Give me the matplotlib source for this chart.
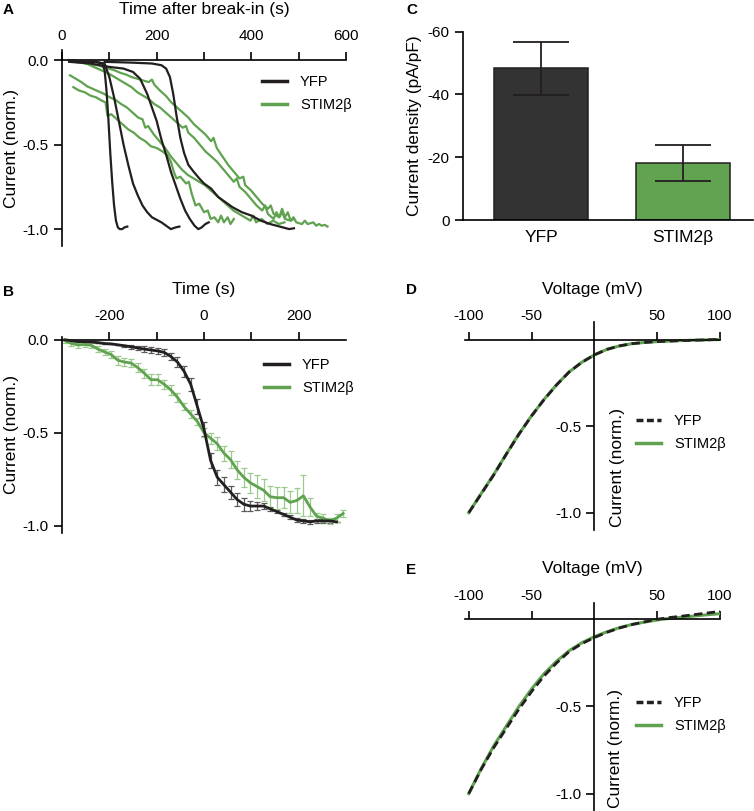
import matplotlib
matplotlib.use('Agg')
import matplotlib.pyplot as plt

plt.rcParams['font.family'] = ['Liberation Sans', 'DejaVu Sans']
plt.rcParams['axes.unicode_minus'] = False
plt.rcParams['axes.linewidth'] = 1.2

BLACK = '#231f20'
GREEN = '#5fa24f'
GREEN_ERR = '#9acb8c'
BLACK_ERR = '#5a5a5a'
GREY_BAR = '#333333'

# ---- panel A: individual traces, time after break-in ----
yfp_t1 = [15, 30, 50, 70, 85, 90, 94, 98, 102, 106, 110, 114, 118, 122, 127, 132, 138]
yfp_i1 = [0, -0.005, -0.01, -0.01, -0.02, -0.06, -0.18, -0.35, -0.55, -0.72, -0.86, -0.95, -0.99, -1.0, -1.0, -0.99, -0.985]
yfp_t2 = [15, 40, 70, 90, 100, 110, 120, 130, 140, 150, 160, 170, 180, 190, 200, 210, 220, 230, 240, 248]
yfp_i2 = [0, -0.01, -0.01, -0.02, -0.1, -0.22, -0.36, -0.5, -0.62, -0.73, -0.8, -0.86, -0.9, -0.93, -0.945,
          -0.96, -0.98, -1.0, -0.99, -0.985]
yfp_t3 = [15, 60, 100, 130, 150, 165, 180, 190, 200, 210, 220, 230, 240, 250, 260, 270, 280, 288, 295, 303, 310]
yfp_i3 = [-0.01, -0.02, -0.04, -0.05, -0.07, -0.11, -0.2, -0.28, -0.36, -0.47, -0.56, -0.66, -0.74, -0.82,
          -0.89, -0.94, -0.98, -1.0, -0.99, -0.97, -0.96]
yfp_t4 = [90, 150, 190, 210, 220, 228, 235, 242, 250, 258, 267, 278, 290, 300, 315, 330, 345, 360, 380, 400,
          420, 440, 460, 480, 490]
yfp_i4 = [-0.01, -0.015, -0.02, -0.03, -0.05, -0.1, -0.2, -0.33, -0.46, -0.55, -0.62, -0.66, -0.7, -0.73,
          -0.76, -0.81, -0.84, -0.87, -0.9, -0.92, -0.95, -0.97, -0.985, -1.0, -0.995]

stim_t1 = [15, 27, 39, 51, 63, 75, 87, 99, 111, 123, 135, 147, 159, 171, 183, 190, 195, 207, 219, 231, 243,
           255, 267, 279, 291, 303, 315, 320, 327, 339, 351, 363, 375, 383, 387, 399, 411, 423, 435, 441, 447,
           459, 465, 471, 483, 489, 495, 507, 513, 519, 531, 537, 543, 549, 555, 561]
stim_i1 = [0.0, -0.005, -0.01, -0.02, -0.025, -0.03, -0.04, -0.05, -0.06, -0.075, -0.085, -0.1, -0.11, -0.12,
           -0.13, -0.115, -0.145, -0.18, -0.21, -0.25, -0.28, -0.31, -0.34, -0.38, -0.41, -0.44, -0.48, -0.46,
           -0.52, -0.57, -0.62, -0.66, -0.7, -0.69, -0.74, -0.77, -0.81, -0.85, -0.88, -0.86, -0.91, -0.93,
           -0.9, -0.94, -0.95, -0.93, -0.96, -0.97, -0.95, -0.97, -0.96, -0.98, -0.97, -0.98, -0.975, -0.985]
stim_t2 = [15, 27, 39, 51, 63, 75, 87, 99, 111, 123, 135, 147, 159, 171, 183, 195, 207, 219, 231, 243, 255,
           262, 267, 279, 291, 303, 315, 327, 339, 351, 363, 369, 375, 387, 399, 411, 423, 429, 435, 447, 453,
           459, 465, 471, 477, 483, 490]
stim_i2 = [0.0, -0.01, -0.015, -0.02, -0.035, -0.05, -0.065, -0.08, -0.1, -0.12, -0.14, -0.16, -0.19, -0.21,
           -0.23, -0.26, -0.28, -0.31, -0.34, -0.37, -0.4, -0.39, -0.43, -0.46, -0.5, -0.54, -0.57, -0.6, -0.64,
           -0.68, -0.72, -0.7, -0.75, -0.78, -0.82, -0.86, -0.89, -0.86, -0.91, -0.94, -0.9, -0.93, -0.88,
           -0.93, -0.9, -0.95, -0.94]
stim_t3 = [17, 29, 41, 53, 65, 77, 89, 101, 113, 125, 137, 149, 161, 170, 176, 182, 194, 206, 218, 230, 242,
           254, 266, 278, 290, 302, 314, 326, 338, 350, 362, 374, 386, 398, 404, 410, 422, 434, 446, 458, 470]
stim_i3 = [-0.09, -0.11, -0.13, -0.155, -0.17, -0.185, -0.2, -0.22, -0.235, -0.26, -0.28, -0.31, -0.34, -0.35,
           -0.4, -0.39, -0.44, -0.48, -0.52, -0.57, -0.61, -0.65, -0.68, -0.7, -0.72, -0.74, -0.77, -0.8, -0.83,
           -0.86, -0.89, -0.91, -0.93, -0.95, -0.92, -0.96, -0.94, -0.97, -0.95, -0.97, -0.96]
stim_t4 = [24, 36, 48, 60, 72, 84, 92, 96, 104, 116, 128, 140, 152, 164, 176, 188, 200, 212, 222, 230, 236,
           242, 250, 262, 268, 274, 282, 290, 300, 308, 314, 322, 330, 336, 342, 350, 356, 363]
stim_i4 = [-0.16, -0.18, -0.19, -0.21, -0.22, -0.24, -0.25, -0.33, -0.32, -0.35, -0.38, -0.41, -0.43, -0.46,
           -0.48, -0.51, -0.52, -0.54, -0.56, -0.6, -0.66, -0.7, -0.69, -0.73, -0.72, -0.79, -0.86, -0.85, -0.9,
           -0.89, -0.94, -0.93, -0.96, -0.92, -0.96, -0.93, -0.97, -0.94]

# ---- panel B: mean +/- SEM aligned to half-max ----
b_time = [-294, -280, -266, -252, -238, -224, -210, -196, -182, -168, -154, -140, -126, -112, -98, -84, -70,
          -56, -42, -28, -14, 0, 14, 28, 42, 56, 70, 84, 98, 112, 126, 140, 154, 168, 182, 196, 210, 224, 238,
          252, 266, 280, 294]
b_yfp = [0.0, -0.005, -0.01, -0.01, -0.012, -0.015, -0.02, -0.022, -0.027, -0.032, -0.038, -0.044, -0.05,
         -0.055, -0.06, -0.068, -0.09, -0.12, -0.17, -0.24, -0.36, -0.48, -0.65, -0.74, -0.78, -0.82, -0.86,
         -0.885, -0.895, -0.895, -0.895, -0.91, -0.925, -0.94, -0.955, -0.97, -0.975, -0.98, -0.975, -0.975,
         -0.975, -0.98, None]
b_yfp_sem = [0.0, 0.0, 0.0, 0.0, 0.0, 0.0, 0.0, 0.0, 0.0, 0.005, 0.01, 0.012, 0.014, 0.015, 0.015, 0.017,
             0.02, 0.025, 0.03, 0.035, 0.04, 0.04, 0.04, 0.04, 0.04, 0.035, 0.035, 0.035, 0.025, 0.02, 0.015,
             0.01, 0.01, 0.01, 0.01, 0.01, 0.01, 0.012, 0.012, 0.01, 0.01, 0.0, None]
b_stim = [-0.005, -0.02, -0.028, -0.025, -0.03, -0.05, -0.065, -0.08, -0.11, -0.12, -0.125, -0.15, -0.18,
          -0.215, -0.215, -0.24, -0.27, -0.31, -0.36, -0.4, -0.44, -0.5, -0.53, -0.56, -0.61, -0.645, -0.7,
          -0.74, -0.77, -0.79, -0.81, -0.845, -0.85, -0.85, -0.875, -0.865, -0.84, -0.9, -0.95, -0.96,
          -0.975, -0.96, -0.935]
b_stim_sem = [0.01, 0.015, 0.015, 0.015, 0.015, 0.015, 0.015, 0.02, 0.025, 0.02, 0.02, 0.025, 0.025, 0.03,
              0.03, 0.025, 0.025, 0.025, 0.02, 0.02, 0.02, 0.025, 0.03, 0.035, 0.04, 0.045, 0.05, 0.05, 0.055,
              0.06, 0.06, 0.06, 0.06, 0.055, 0.06, 0.065, 0.11, 0.05, 0.02, 0.02, 0.015, 0.02, 0.02]

# ---- panel C: current density ----
groups = ['YFP', 'STIM2\u03b2']
density = [-48.3, -18.1]
density_sem = [8.5, 5.7]

# ---- panels D, E: I-V relations ----
volt = [-100, -90, -80, -70, -60, -50, -40, -30, -20, -10, 0, 10, 20, 30, 40, 50, 60, 70, 80, 90, 100]
iv_d_yfp = [-1.0, -0.89, -0.78, -0.66, -0.545, -0.44, -0.345, -0.26, -0.185, -0.13, -0.087, -0.055, -0.035,
            -0.022, -0.015, -0.01, -0.007, -0.004, -0.002, 0.0, 0.003]
iv_d_stim = [-1.0, -0.888, -0.778, -0.659, -0.544, -0.439, -0.344, -0.259, -0.185, -0.13, -0.087, -0.055,
             -0.035, -0.022, -0.015, -0.01, -0.007, -0.004, -0.002, 0.0, 0.002]
iv_e_yfp = [-1.0, -0.86, -0.735, -0.625, -0.515, -0.415, -0.325, -0.25, -0.185, -0.14, -0.105, -0.075, -0.05,
            -0.03, -0.015, 0.0, 0.01, 0.018, 0.027, 0.036, 0.045]
iv_e_stim = [-1.0, -0.855, -0.725, -0.612, -0.5, -0.4, -0.312, -0.24, -0.18, -0.135, -0.1, -0.072, -0.048,
             -0.03, -0.016, -0.004, 0.005, 0.012, 0.019, 0.026, 0.032]

W, H = 754, 811
fig = plt.figure(figsize=(W / 100, H / 100), dpi=100)


def box(left, top, right, bottom):
    # pixel box -> figure fraction
    return [left / W, 1 - bottom / H, (right - left) / W, (bottom - top) / H]


def top_axis(ax, xlabel):
    ax.spines['right'].set_visible(False)
    ax.spines['bottom'].set_visible(False)
    ax.spines['top'].set_position(('data', 0))
    ax.xaxis.tick_top()
    ax.xaxis.set_label_position('top')
    ax.set_xlabel(xlabel, fontsize=12.5, labelpad=11)
    ax.tick_params(axis='both', which='both', direction='out', length=6, width=1.2, labelsize=11)
    ax.tick_params(axis='x', which='both', pad=6)


def legend(ax, handles, x, y):
    fig.legend(handles=handles, loc='upper left', bbox_to_anchor=(x / W, 1 - y / H), frameon=False,
               fontsize=10.5, handlelength=1.7, handletextpad=0.9, borderpad=0, borderaxespad=0,
               labelspacing=0.6)


# A
axA = fig.add_axes(box(62, 50, 346, 246))
for t, i in [(yfp_t1, yfp_i1), (yfp_t2, yfp_i2), (yfp_t3, yfp_i3), (yfp_t4, yfp_i4)]:
    axA.plot(t, i, color=BLACK, lw=1.6, zorder=3)
for t, i in [(stim_t1, stim_i1), (stim_t2, stim_i2), (stim_t3, stim_i3), (stim_t4, stim_i4)]:
    axA.plot(t, i, color=GREEN, lw=1.6, zorder=2)
axA.set_xlim(0, 600)
axA.set_ylim(-1.1, 0.06)
top_axis(axA, 'Time after break-in (s)')
axA.set_xticks([0, 200, 400, 600])
axA.set_xticks([100, 300, 500], minor=True)
axA.set_yticks([0, -0.5, -1.0])
axA.set_yticklabels(['0.0', '-0.5', '-1.0'])
axA.set_ylabel('Current (norm.)', fontsize=12.5, labelpad=3)
hA = [plt.Line2D([], [], color=BLACK, lw=2.5, label='YFP'),
      plt.Line2D([], [], color=GREEN, lw=2.5, label='STIM2\u03b2')]
legend(axA, hA, 262, 75)

# B
axB = fig.add_axes(box(62, 337, 346, 533))
yfp_pts = [(t, v, e) for t, v, e in zip(b_time, b_yfp, b_yfp_sem) if v is not None]
axB.errorbar([p[0] for p in yfp_pts], [p[1] for p in yfp_pts], yerr=[p[2] for p in yfp_pts], fmt='none',
             ecolor=BLACK_ERR, elinewidth=0.9, capsize=2.2, capthick=0.9, zorder=2)
axB.errorbar(b_time, b_stim, yerr=b_stim_sem, fmt='none', ecolor=GREEN_ERR, elinewidth=0.9, capsize=2.2,
             capthick=0.9, zorder=2)
axB.plot(b_time, b_stim, color=GREEN, lw=2, zorder=3)
axB.plot([p[0] for p in yfp_pts], [p[1] for p in yfp_pts], color=BLACK, lw=2, zorder=4)
axB.set_xlim(-300, 300)
axB.set_ylim(-1.04, 0.015)
top_axis(axB, 'Time (s)')
axB.set_xticks([-200, 0, 200])
axB.set_xticks([-100, 100], minor=True)
axB.set_yticks([0, -0.5, -1.0])
axB.set_yticklabels(['0.0', '-0.5', '-1.0'])
axB.set_ylabel('Current (norm.)', fontsize=12.5, labelpad=3)
legend(axB, hA, 264, 358)

# C
axC = fig.add_axes(box(462.7, 31.7, 753, 220))
axC.bar([0, 1], density, width=0.66, color=[GREY_BAR, '#62a352'], edgecolor=BLACK, linewidth=1.1, zorder=2)
axC.errorbar([0, 1], density, yerr=density_sem, fmt='none', ecolor=BLACK, elinewidth=1.3, capsize=20,
             capthick=1.3, zorder=3)
axC.set_xlim(-0.55, 1.49)
axC.set_ylim(0, -60)
axC.spines['top'].set_visible(False)
axC.spines['right'].set_visible(False)
axC.set_yticks([0, -20, -40, -60])
axC.set_xticks([0, 1])
axC.set_xticklabels(groups)
axC.tick_params(axis='y', direction='out', length=6, width=1.2, labelsize=11)
axC.tick_params(axis='x', length=0, labelsize=12.5, pad=7)
axC.set_ylabel('Current density (pA/pF)', fontsize=12.5, labelpad=4)


def iv_panel(ax, yfp, stim, ymax, lab_x, lab_y):
    ax.plot(volt, stim, color=GREEN, lw=2.2, zorder=2)
    ax.plot(volt, yfp, color=BLACK, lw=2, dashes=(3, 1.6), zorder=3)
    ax.set_xlim(-103, 100)
    ax.set_ylim(-1.1, ymax)
    top_axis(ax, 'Voltage (mV)')
    ax.spines['left'].set_position(('data', 0))
    ax.set_xticks([-100, -50, 50, 100])
    ax.set_yticks([-0.5, -1.0])
    ax.set_yticklabels(['-0.5', '-1.0'])
    ax.set_ylabel('Current (norm.)', fontsize=12.5)
    ax.yaxis.set_label_coords(lab_x, lab_y)


# D
axD = fig.add_axes(box(465, 321.7, 720, 530))
iv_panel(axD, iv_d_yfp, iv_d_stim, 0.105, 0.627, 0.30)
hD = [plt.Line2D([], [], color=BLACK, lw=2.5, dashes=(2, 1), label='YFP'),
      plt.Line2D([], [], color=GREEN, lw=2.5, label='STIM2\u03b2')]
legend(axD, hD, 636, 414)

# E
axE = fig.add_axes(box(465, 602.7, 720, 811))
iv_panel(axE, iv_e_yfp, iv_e_stim, 0.095, 0.62, 0.30)
legend(axE, hD, 636, 696)

for lab, x, y in [('A', 3, 3), ('B', 3, 285), ('C', 406, 3), ('D', 406, 283), ('E', 406, 563)]:
    fig.text(x / W, 1 - y / H, lab, fontsize=11, fontweight='bold', va='top', ha='left')

fig.savefig('out.png', dpi=100)
